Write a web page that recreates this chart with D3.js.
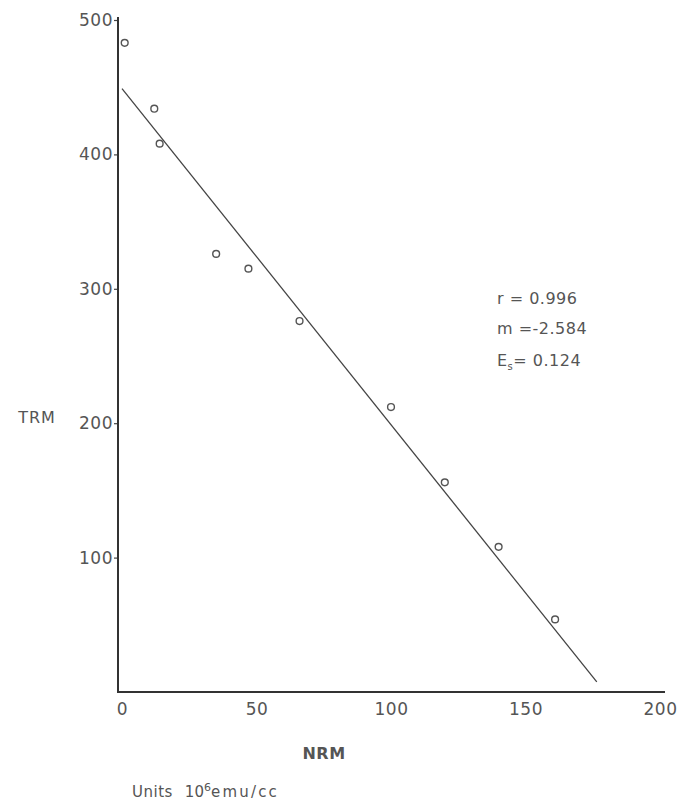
<!DOCTYPE html>
<html>
<head>
<meta charset="utf-8">
<script src="https://cdn.jsdelivr.net/npm/d3@7"></script>
<style>
  body { margin: 0; background: #fff; }
  text { font-family: "DejaVu Sans", sans-serif; fill: #555; }
</style>
</head>
<body>
<div id="chart"></div>
<script>
// values (NRM, TRM in 10^6 emu/cc)
const nrm = [1, 12, 14, 35, 47, 66, 100, 120, 140, 161];
const trm = [483, 434, 408, 326, 315, 276, 212, 156, 108, 54];
const fitLine = [[0, 449], [176.5, 7.5]];
const xTicks = [0, 50, 100, 150, 200];
const yTicks = [100, 200, 300, 400, 500];
const stats = ["r = 0.996", "m =-2.584", "E"];

const width = 681, height = 804;
const svg = d3.select("#chart").append("svg")
    .attr("width", width).attr("height", height);

const x = d3.scaleLinear().domain([0, 200]).range([122, 660]);
const y = d3.scaleLinear().domain([0, 500]).range([692, 20]);

// axes
const yAxis = svg.append("g").attr("transform", `translate(${x(0) - 4},0)`)
    .call(d3.axisLeft(y).tickValues(yTicks).tickSize(4).tickPadding(1));
yAxis.select(".domain").remove();
yAxis.selectAll("line").attr("stroke", "#444").attr("stroke-width", 1.2);
yAxis.selectAll("text").style("font-size", "17px").attr("letter-spacing", "0.5px")
    .attr("fill", "#555").attr("font-family", "DejaVu Sans");

const xAxis = svg.append("g").attr("transform", `translate(0,${y(0)})`)
    .call(d3.axisBottom(x).tickValues(xTicks).tickSize(0).tickPadding(11));
xAxis.select(".domain").remove();
xAxis.selectAll("text").style("font-size", "17px").attr("letter-spacing", "0.5px")
    .attr("fill", "#555").attr("font-family", "DejaVu Sans");

svg.append("line")
    .attr("x1", x(0) - 4).attr("x2", x(0) - 4)
    .attr("y1", y(500) - 3).attr("y2", y(0))
    .attr("stroke", "#333").attr("stroke-width", 2);
svg.append("line")
    .attr("x1", x(0) - 5).attr("x2", x(200) + 5)
    .attr("y1", y(0)).attr("y2", y(0))
    .attr("stroke", "#333").attr("stroke-width", 2);

// regression line
svg.append("line")
    .attr("x1", x(fitLine[0][0])).attr("y1", y(fitLine[0][1]))
    .attr("x2", x(fitLine[1][0])).attr("y2", y(fitLine[1][1]))
    .attr("stroke", "#444").attr("stroke-width", 1.3);

// points
svg.append("g").selectAll("circle").data(nrm).join("circle")
    .attr("cx", d => x(d)).attr("cy", (d, i) => y(trm[i]))
    .attr("r", 3.4)
    .attr("fill", "none").attr("stroke", "#555").attr("stroke-width", 1.4);

// axis titles
svg.append("text").attr("x", 37).attr("y", 423).attr("text-anchor", "middle")
    .style("font-size", "16px").attr("letter-spacing", "1px").text("TRM");
svg.append("text").attr("x", 324).attr("y", 759).attr("text-anchor", "middle")
    .style("font-size", "16px").style("font-weight", "bold").attr("letter-spacing", "0.5px")
    .text("NRM");

const units = svg.append("text").attr("x", 132).attr("y", 797)
    .style("font-size", "15px").attr("fill", "#666");
units.append("tspan").attr("letter-spacing", "0.5px").text("Units");
units.append("tspan").attr("dx", 12).text("10");
units.append("tspan").attr("dy", -6).style("font-size", "11px").text("6");
units.append("tspan").attr("dy", 6).attr("letter-spacing", "2.2px").text("emu/cc");

// statistics
const st = svg.append("g").attr("transform", "translate(497,0)");
st.append("text").attr("y", 304).style("font-size", "16px").attr("letter-spacing", "0.5px").text(stats[0]);
st.append("text").attr("y", 334).style("font-size", "16px").attr("letter-spacing", "0.5px").text(stats[1]);
const es = st.append("text").attr("y", 366).style("font-size", "16px").attr("letter-spacing", "0.5px");
es.append("tspan").text(stats[2]);
es.append("tspan").attr("dy", 4).style("font-size", "10px").text("s");
es.append("tspan").attr("dy", -4).text("= 0.124");
</script>
</body>
</html>
